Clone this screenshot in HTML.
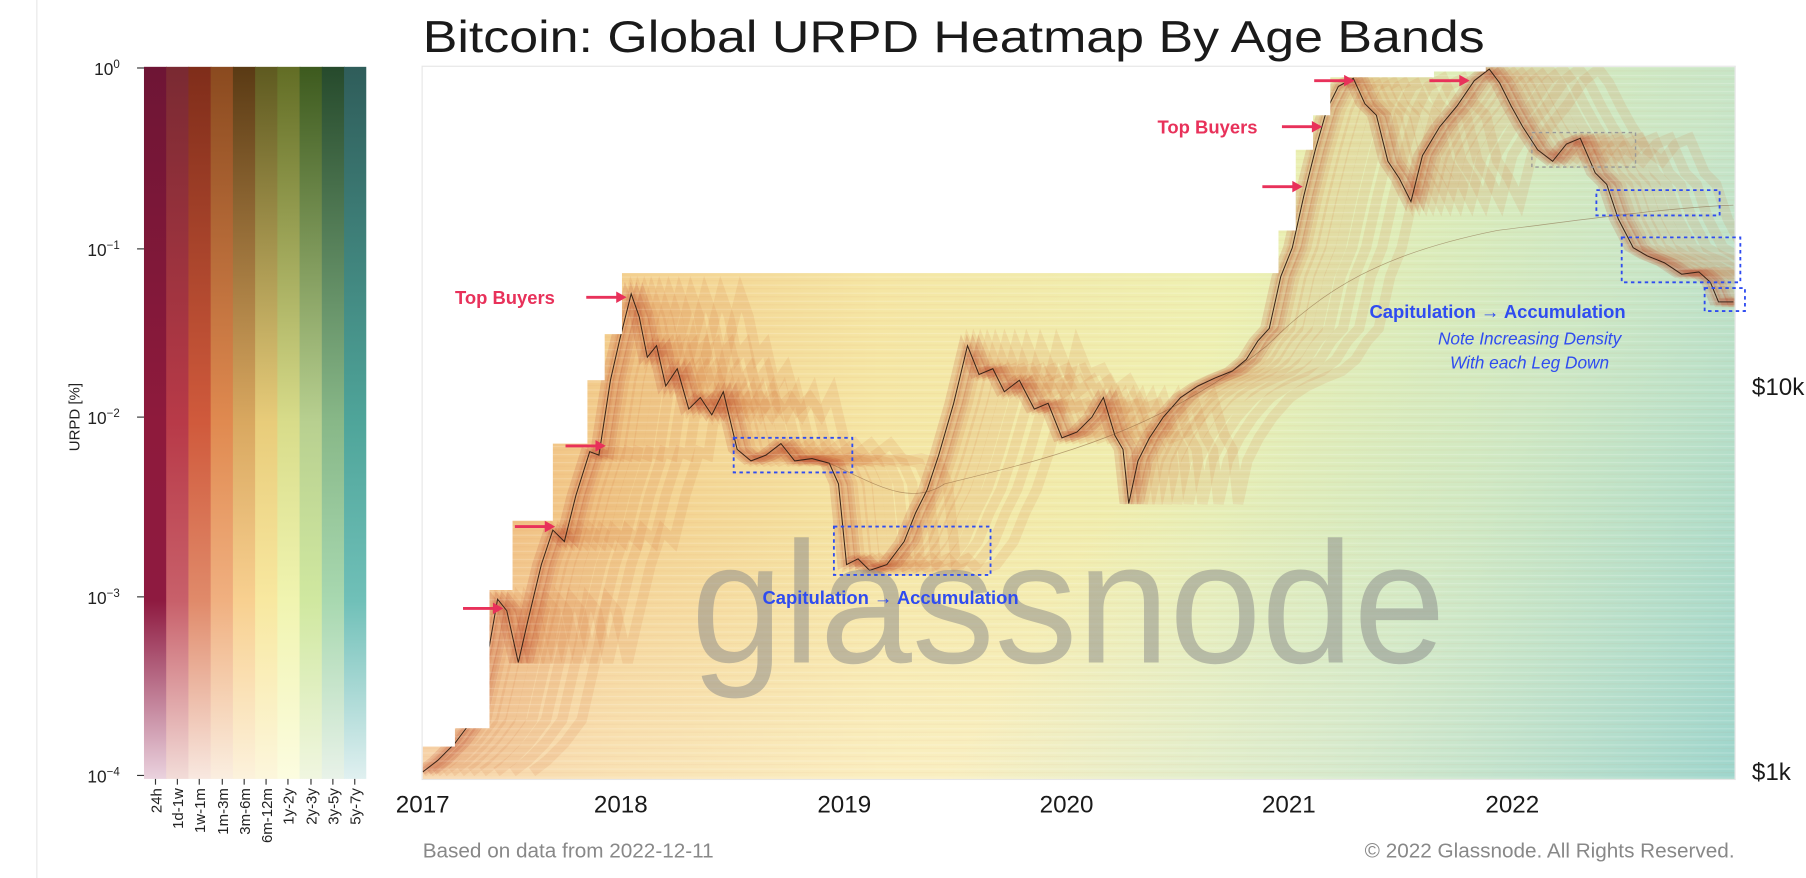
<!DOCTYPE html>
<html><head><meta charset="utf-8"><style>
html,body{margin:0;padding:0;background:#fff;}
svg{display:block;font-family:"Liberation Sans",sans-serif;}
</style></head><body>
<svg width="1806" height="878" viewBox="0 0 1568 762" preserveAspectRatio="none" xmlns="http://www.w3.org/2000/svg">
<defs>
<linearGradient id="base" x1="367" y1="0" x2="1506" y2="0" gradientUnits="userSpaceOnUse">
<stop offset="0" stop-color="#efb47a"/>
<stop offset="0.15" stop-color="#f3cf8e"/>
<stop offset="0.35" stop-color="#f5e6a4"/>
<stop offset="0.6" stop-color="#eef0b2"/>
<stop offset="0.8" stop-color="#e2eeb4"/>
<stop offset="1" stop-color="#d2e8bc"/>
</linearGradient>
<linearGradient id="teal" x1="1000" y1="380" x2="1506" y2="690" gradientUnits="userSpaceOnUse">
<stop offset="0" stop-color="#bfe3d2" stop-opacity="0"/>
<stop offset="0.45" stop-color="#bfe3d2" stop-opacity="0.5"/>
<stop offset="1" stop-color="#8fd0cc" stop-opacity="0.85"/>
</linearGradient>
<linearGradient id="bot" x1="0" y1="450" x2="0" y2="676" gradientUnits="userSpaceOnUse">
<stop offset="0" stop-color="#fff8e0" stop-opacity="0"/>
<stop offset="1" stop-color="#fff6dc" stop-opacity="0.5"/>
</linearGradient>
<pattern id="streak" width="40" height="7" patternUnits="userSpaceOnUse">
<rect x="0" y="2" width="40" height="1" fill="#fff" fill-opacity="0.18"/>
<rect x="0" y="5" width="40" height="1" fill="#c8783c" fill-opacity="0.06"/>
</pattern>
<clipPath id="env"><polygon points="367,676 367,648 395,648 395,632 425,632 425,512 445,512 445,452 480,452 480,385 510,385 510,330 525,330 525,290 540,290 540,237 1110,237 1110,200 1125,200 1125,130 1140,130 1140,100 1155,100 1155,67 1245,67 1245,62 1290,62 1290,58 1506,58 1506,676"/></clipPath>
<linearGradient id="cb0" x1="0" y1="58" x2="0" y2="676" gradientUnits="userSpaceOnUse"><stop offset="0" stop-color="#6e1535"/><stop offset="0.5" stop-color="#8e1a3c"/><stop offset="0.75" stop-color="#8e1a40"/><stop offset="1" stop-color="#ead2de"/></linearGradient>
<linearGradient id="cb1" x1="0" y1="58" x2="0" y2="676" gradientUnits="userSpaceOnUse"><stop offset="0" stop-color="#7a2a32"/><stop offset="0.5" stop-color="#b83a48"/><stop offset="0.75" stop-color="#c8606a"/><stop offset="1" stop-color="#f2dcd8"/></linearGradient>
<linearGradient id="cb2" x1="0" y1="58" x2="0" y2="676" gradientUnits="userSpaceOnUse"><stop offset="0" stop-color="#7f2d1a"/><stop offset="0.5" stop-color="#d05a3c"/><stop offset="0.75" stop-color="#e08a6a"/><stop offset="1" stop-color="#f8e8e0"/></linearGradient>
<linearGradient id="cb3" x1="0" y1="58" x2="0" y2="676" gradientUnits="userSpaceOnUse"><stop offset="0" stop-color="#8a4a1f"/><stop offset="0.5" stop-color="#e08a50"/><stop offset="0.75" stop-color="#f0b080"/><stop offset="1" stop-color="#faeee0"/></linearGradient>
<linearGradient id="cb4" x1="0" y1="58" x2="0" y2="676" gradientUnits="userSpaceOnUse"><stop offset="0" stop-color="#5a3a14"/><stop offset="0.5" stop-color="#d9a860"/><stop offset="0.75" stop-color="#f8d090"/><stop offset="1" stop-color="#fcf2dc"/></linearGradient>
<linearGradient id="cb5" x1="0" y1="58" x2="0" y2="676" gradientUnits="userSpaceOnUse"><stop offset="0" stop-color="#5e5a20"/><stop offset="0.5" stop-color="#e8cc7a"/><stop offset="0.75" stop-color="#f8e8a0"/><stop offset="1" stop-color="#fcf6dc"/></linearGradient>
<linearGradient id="cb6" x1="0" y1="58" x2="0" y2="676" gradientUnits="userSpaceOnUse"><stop offset="0" stop-color="#626d25"/><stop offset="0.5" stop-color="#d8dc8a"/><stop offset="0.75" stop-color="#f0f4b0"/><stop offset="1" stop-color="#fcfce0"/></linearGradient>
<linearGradient id="cb7" x1="0" y1="58" x2="0" y2="676" gradientUnits="userSpaceOnUse"><stop offset="0" stop-color="#3d5a1e"/><stop offset="0.5" stop-color="#b8d090"/><stop offset="0.75" stop-color="#d0e8a0"/><stop offset="1" stop-color="#f0f6e0"/></linearGradient>
<linearGradient id="cb8" x1="0" y1="58" x2="0" y2="676" gradientUnits="userSpaceOnUse"><stop offset="0" stop-color="#264a2c"/><stop offset="0.5" stop-color="#88b888"/><stop offset="0.75" stop-color="#a8d8b0"/><stop offset="1" stop-color="#e8f2e8"/></linearGradient>
<linearGradient id="cb9" x1="0" y1="58" x2="0" y2="676" gradientUnits="userSpaceOnUse"><stop offset="0" stop-color="#2f5d5a"/><stop offset="0.5" stop-color="#4fa59a"/><stop offset="0.75" stop-color="#70c0b8"/><stop offset="1" stop-color="#e0f0f0"/></linearGradient>
<path id="price" d="M367,670 L380,660 L395,645 L410,625 L425,560 L432,520 L440,530 L450,575 L458,540 L470,490 L480,460 L490,470 L500,430 L512,392 L520,395 L530,330 L538,295 L548,255 L555,275 L562,310 L570,300 L578,335 L588,320 L598,355 L608,345 L618,360 L628,340 L640,390 L652,400 L665,395 L678,385 L690,400 L705,398 L720,402 L728,420 L735,490 L745,485 L755,495 L770,490 L785,470 L795,445 L805,425 L815,395 L828,350 L840,300 L850,325 L862,320 L872,340 L885,330 L898,355 L910,350 L922,380 L935,375 L948,362 L958,345 L968,378 L975,390 L980,437 L988,400 L998,380 L1010,362 L1025,345 L1040,335 L1055,328 L1070,322 L1082,312 L1092,296 L1102,285 L1112,240 L1122,215 L1132,170 L1142,130 L1152,95 L1162,75 L1175,68 L1185,90 L1195,100 L1205,140 L1215,155 L1225,175 L1235,135 L1250,110 L1265,92 L1280,70 L1293,60 L1302,72 L1312,92 L1322,110 L1335,130 L1348,140 L1360,125 L1372,120 L1385,150 L1395,160 L1405,190 L1418,215 L1430,222 L1445,228 L1460,238 L1475,236 L1485,245 L1492,262 L1505,262"/>
</defs>

<line x1="32" y1="0" x2="32" y2="762" stroke="#e8e8e8" stroke-width="1"/>

<g>
<rect x="125" y="58" width="20" height="618" fill="url(#cb0)"/>
<rect x="144.3" y="58" width="20" height="618" fill="url(#cb1)"/>
<rect x="163.6" y="58" width="20" height="618" fill="url(#cb2)"/>
<rect x="182.9" y="58" width="20" height="618" fill="url(#cb3)"/>
<rect x="202.2" y="58" width="20" height="618" fill="url(#cb4)"/>
<rect x="221.5" y="58" width="20" height="618" fill="url(#cb5)"/>
<rect x="240.8" y="58" width="20" height="618" fill="url(#cb6)"/>
<rect x="260.1" y="58" width="20" height="618" fill="url(#cb7)"/>
<rect x="279.4" y="58" width="20" height="618" fill="url(#cb8)"/>
<rect x="298.7" y="58" width="19.3" height="618" fill="url(#cb9)"/>
</g>
<g stroke="#333" stroke-width="1">
<line x1="119" y1="59" x2="125" y2="59"/><line x1="119" y1="216" x2="125" y2="216"/><line x1="119" y1="362" x2="125" y2="362"/><line x1="119" y1="518" x2="125" y2="518"/><line x1="119" y1="673" x2="125" y2="673"/>
</g>
<g font-size="15" fill="#222" text-anchor="end">
<text x="104" y="65">10<tspan dy="-6" font-size="10">0</tspan></text>
<text x="104" y="222">10<tspan dy="-6" font-size="10">−1</tspan></text>
<text x="104" y="368">10<tspan dy="-6" font-size="10">−2</tspan></text>
<text x="104" y="524">10<tspan dy="-6" font-size="10">−3</tspan></text>
<text x="104" y="679">10<tspan dy="-6" font-size="10">−4</tspan></text>
</g>
<text transform="translate(69,362) rotate(-90)" font-size="13" text-anchor="middle" fill="#222">URPD [%]</text>
<g stroke="#333" stroke-width="1">
<line x1="135" y1="676" x2="135" y2="681"/><line x1="154" y1="676" x2="154" y2="681"/><line x1="173" y1="676" x2="173" y2="681"/><line x1="193" y1="676" x2="193" y2="681"/><line x1="212" y1="676" x2="212" y2="681"/><line x1="231" y1="676" x2="231" y2="681"/><line x1="250" y1="676" x2="250" y2="681"/><line x1="270" y1="676" x2="270" y2="681"/><line x1="289" y1="676" x2="289" y2="681"/><line x1="308" y1="676" x2="308" y2="681"/>
</g>
<g font-size="13" fill="#222" text-anchor="end">
<text transform="translate(140,684) rotate(-90)">24h</text>
<text transform="translate(159,684) rotate(-90)">1d-1w</text>
<text transform="translate(178,684) rotate(-90)">1w-1m</text>
<text transform="translate(198,684) rotate(-90)">1m-3m</text>
<text transform="translate(217,684) rotate(-90)">3m-6m</text>
<text transform="translate(236,684) rotate(-90)">6m-12m</text>
<text transform="translate(255,684) rotate(-90)">1y-2y</text>
<text transform="translate(275,684) rotate(-90)">2y-3y</text>
<text transform="translate(294,684) rotate(-90)">3y-5y</text>
<text transform="translate(313,684) rotate(-90)">5y-7y</text>
</g>

<text x="367" y="45" font-size="39" fill="#1a1a1a" textLength="922" lengthAdjust="spacingAndGlyphs">Bitcoin: Global URPD Heatmap By Age Bands</text>

<rect x="366.5" y="57.5" width="1140" height="619" fill="#fff" stroke="#e6e6e6"/>

<g clip-path="url(#env)">
<rect x="367" y="58" width="1140" height="618" fill="url(#base)"/>
<rect x="367" y="58" width="1140" height="618" fill="url(#bot)"/>
<rect x="367" y="58" width="1140" height="618" fill="url(#teal)"/>
<g fill="none" stroke="#d06a38" stroke-width="9" stroke-opacity="0.13">
<use href="#price"/>
<use href="#price" transform="translate(6,0)"/>
<use href="#price" transform="translate(12,0)"/>
<use href="#price" transform="translate(18,0)"/>
<use href="#price" transform="translate(25,0)"/>
<use href="#price" transform="translate(33,0)"/>
<use href="#price" transform="translate(42,0)"/>
<use href="#price" transform="translate(52,0)"/>
<use href="#price" transform="translate(64,0)"/>
<use href="#price" transform="translate(78,0)"/>
<use href="#price" transform="translate(95,0)"/>
</g>
<g fill="none" stroke="#b5432c" stroke-width="6" stroke-opacity="0.18">
<use href="#price"/>
<use href="#price" transform="translate(5,0)"/>
<use href="#price" transform="translate(10,0)"/>
<use href="#price" transform="translate(-5,0)"/>
</g>
<rect x="367" y="58" width="1140" height="618" fill="url(#streak)"/>
<use href="#price" fill="none" stroke="#3a2418" stroke-width="0.9"/>
<path d="M720,402 C760,420 790,440 820,420 C900,400 1000,380 1100,300 C1150,250 1200,220 1300,200 C1380,190 1450,180 1505,178" fill="none" stroke="#7a5030" stroke-width="0.6" stroke-opacity="0.5"/>
</g>

<text x="600" y="575" font-size="150" fill="#888" fill-opacity="0.5" textLength="655" lengthAdjust="spacingAndGlyphs">glassnode</text>

<g font-size="21" fill="#1a1a1a" text-anchor="middle">
<text x="367" y="705">2017</text>
<text x="539" y="705">2018</text>
<text x="733" y="705">2019</text>
<text x="926" y="705">2020</text>
<text x="1119" y="705">2021</text>
<text x="1313" y="705">2022</text>
</g>
<g font-size="21" fill="#1a1a1a">
<text x="1521" y="343">$10k</text>
<text x="1521" y="677">$1k</text>
</g>
<g font-size="18" fill="#888">
<text x="367" y="744">Based on data from 2022-12-11</text>
<text x="1506" y="744" text-anchor="end">© 2022 Glassnode. All Rights Reserved.</text>
</g>

<g fill="#e8315a" stroke="#e8315a" stroke-width="2.5">
<line x1="402" y1="528" x2="430" y2="528"/><polygon points="437,528 428,523 428,533" stroke="none"/>
<line x1="447" y1="457" x2="475" y2="457"/><polygon points="482,457 473,452 473,462" stroke="none"/>
<line x1="491" y1="387" x2="519" y2="387"/><polygon points="526,387 517,382 517,392" stroke="none"/>
<line x1="509" y1="258" x2="537" y2="258"/><polygon points="544,258 535,253 535,263" stroke="none"/>
<line x1="1096" y1="162" x2="1124" y2="162"/><polygon points="1131,162 1122,157 1122,167" stroke="none"/>
<line x1="1113" y1="110" x2="1141" y2="110"/><polygon points="1148,110 1139,105 1139,115" stroke="none"/>
<line x1="1141" y1="70" x2="1169" y2="70"/><polygon points="1176,70 1167,65 1167,75" stroke="none"/>
<line x1="1241" y1="70" x2="1269" y2="70"/><polygon points="1276,70 1267,65 1267,75" stroke="none"/>
</g>
<g font-size="16" font-weight="bold" fill="#e8315a">
<text x="395" y="264">Top Buyers</text>
<text x="1005" y="116">Top Buyers</text>
</g>
<g fill="none" stroke="#2f4cf0" stroke-width="1.6" stroke-dasharray="3,3">
<rect x="637" y="380" width="103" height="30"/>
<rect x="724" y="457" width="136" height="42"/>
<rect x="1386" y="165" width="107" height="22"/>
<rect x="1408" y="206" width="103" height="39"/>
<rect x="1480" y="250" width="35" height="20"/>
</g>
<rect x="1330" y="115" width="90" height="30" fill="none" stroke="#999" stroke-width="1.2" stroke-dasharray="3,3"/>
<g font-size="16" font-weight="bold" fill="#2f4cf0">
<text x="662" y="524">Capitulation → Accumulation</text>
<text x="1189" y="276">Capitulation → Accumulation</text>
</g>
<g font-size="15" font-style="italic" fill="#2f4cf0" text-anchor="middle">
<text x="1328" y="299">Note Increasing Density</text>
<text x="1328" y="320">With each Leg Down</text>
</g>
</svg>
</body></html>
